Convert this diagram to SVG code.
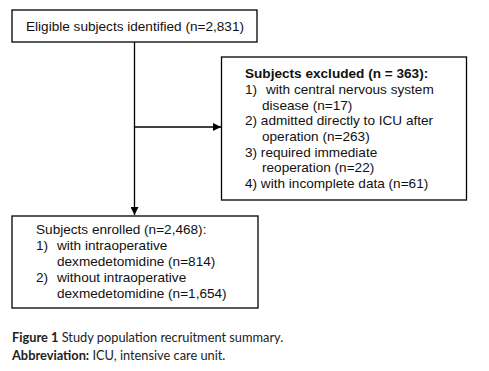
<svg xmlns="http://www.w3.org/2000/svg" width="489" height="371" viewBox="0 0 489 371">
<style>
.box{fill:#fff;stroke:#000;stroke-width:1.3}
.t{font-family:"Liberation Sans",Arial,sans-serif;font-size:13.6px;fill:#111}
.b{font-weight:bold}
.cap{font-family:Lato,"Open Sans",sans-serif;font-size:12.8px;fill:#222}
.ln{stroke:#000;stroke-width:1.3;fill:none}
</style>
<defs>
<marker id="ah" viewBox="0 0 10 10" refX="10" refY="5" markerWidth="8" markerHeight="8" markerUnits="userSpaceOnUse" orient="auto">
<path d="M0,0 L10,5 L0,10 z" fill="#000"/>
</marker>
</defs>
<rect width="489" height="371" fill="#fff"/>
<g id="connectors">
<path class="ln" d="M134.5,42 V215" marker-end="url(#ah)"/>
<path class="ln" d="M134.5,127 H221" marker-end="url(#ah)"/>
</g>
<g id="identified">
<rect class="box" x="12" y="10" width="245" height="32"/>
<text class="t" x="135" y="31" text-anchor="middle">Eligible subjects identified (n=2,831)</text>
</g>
<g id="excluded">
<rect class="box" x="221.5" y="57" width="245" height="143"/>
<text class="t b" x="245" y="78">Subjects excluded (n = 363):</text>
<text class="t" x="245" y="94">1)</text>
<text class="t" x="266" y="94">with central nervous system</text>
<text class="t" x="262" y="110">disease (n=17)</text>
<text class="t" x="245" y="125">2) admitted directly to ICU after</text>
<text class="t" x="262" y="141">operation (n=263)</text>
<text class="t" x="245" y="157">3) required immediate</text>
<text class="t" x="262" y="172">reoperation (n=22)</text>
<text class="t" x="245" y="188">4) with incomplete data (n=61)</text>
</g>
<g id="enrolled">
<rect class="box" x="12" y="216" width="246" height="92"/>
<text class="t" x="36" y="234">Subjects enrolled (n=2,468):</text>
<text class="t" x="36" y="250">1)</text>
<text class="t" x="57" y="250">with intraoperative</text>
<text class="t" x="57" y="266">dexmedetomidine (n=814)</text>
<text class="t" x="36" y="282">2)</text>
<text class="t" x="57" y="282">without intraoperative</text>
<text class="t" x="57" y="298">dexmedetomidine (n=1,654)</text>
</g>
<g id="caption">
<text class="cap" x="12" y="342"><tspan font-weight="bold">Figure 1</tspan> Study population recruitment summary.</text>
<text class="cap" x="12" y="360"><tspan font-weight="bold">Abbreviation:</tspan> ICU, intensive care unit.</text>
</g>
</svg>
